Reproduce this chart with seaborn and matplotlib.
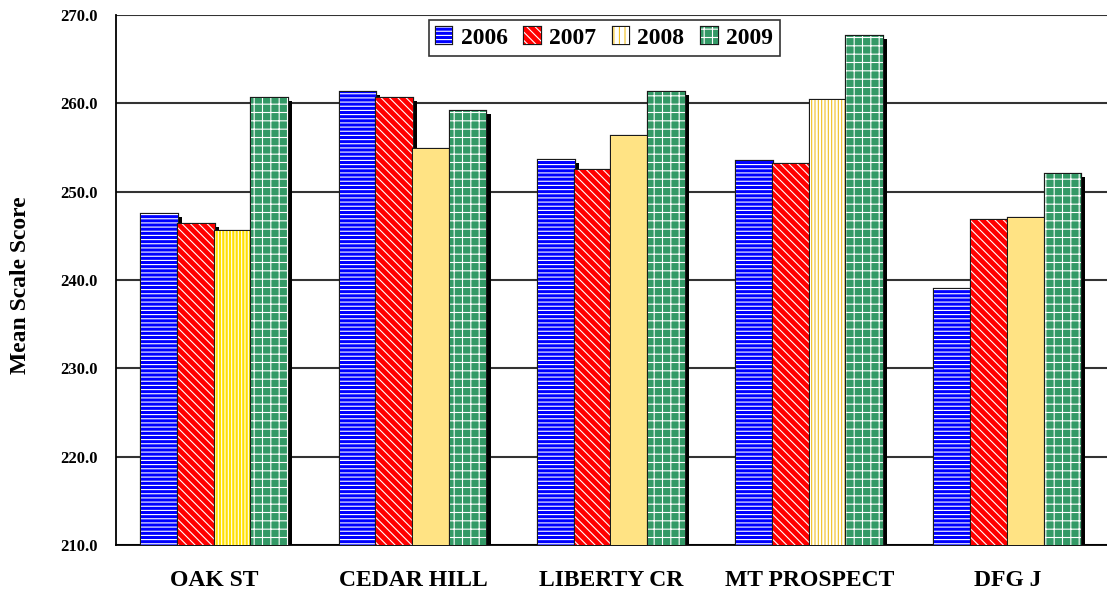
import numpy as np
import pandas as pd
import matplotlib
matplotlib.use("Agg")
import matplotlib.pyplot as plt
import matplotlib.patheffects as pe
from matplotlib.patches import Patch
import seaborn as sns

# data
schools = ["OAK ST", "CEDAR HILL", "LIBERTY CR", "MT PROSPECT", "DFG J"]
years = ["2006", "2007", "2008", "2009"]
score_2006 = [247.5, 261.3, 253.6, 253.5, 239.0]
score_2007 = [246.3, 260.6, 252.5, 253.1, 246.8]
score_2008 = [245.5, 254.8, 256.3, 260.4, 247.0]
score_2009 = [260.6, 259.1, 261.3, 267.6, 252.0]
y_ticks = [210, 220, 230, 240, 250, 260, 270]


def get_data() -> pd.DataFrame:
    rows = []
    for year, scores in zip(years, [score_2006, score_2007, score_2008, score_2009]):
        for school, s in zip(schools, scores):
            rows.append({"school": school, "year": year, "score": s})
    return pd.DataFrame(rows)


# face colour, hatch, hatch colour
year_style = {
    "2006": ("#0000FF", "----", "white"),
    "2007": ("#FF0000", "\\\\\\\\", "white"),
    "2008": ("#FFE384", "", "#FFE384"),
    "2009": ("#339966", "++", "white"),
}
# the 2008 bars are not all drawn the same way
special_2008 = {
    "OAK ST": ("#FFE000", "|||||", "white"),
    "MT PROSPECT": ("white", "|||||", "#F0C020"),
}
legend_style = dict(year_style)
legend_style["2008"] = ("white", "|||", "#F0C020")


def bar_effects():
    return [
        pe.SimplePatchShadow(offset=(3, -2), shadow_rgbFace="black", alpha=1.0, hatch=None),
        pe.Stroke(linewidth=1.6, foreground="#1a1a1a", hatch=None),
        pe.Normal(),
    ]


def style_patch(p, face, hatch, hcolor):
    p.set_facecolor(face)
    p.set_edgecolor(hcolor)
    p.set_hatch(hatch)
    p.set_linewidth(0)
    p.set_path_effects(bar_effects())


sns.set_theme(style="white")
plt.rcParams["font.family"] = ["Liberation Serif", "DejaVu Serif"]
plt.rcParams["font.weight"] = "bold"
plt.rcParams["hatch.linewidth"] = 0.8
for key in ["text.color", "axes.labelcolor", "xtick.color", "ytick.color"]:
    plt.rcParams[key] = "black"

df = get_data()
fig = plt.figure(figsize=(11.07, 5.96), dpi=100)
ax = fig.add_axes([0.1044, 0.0856, 0.8956, 0.8892])

sns.barplot(data=df, x="school", y="score", hue="year", order=schools,
            hue_order=years, palette=[year_style[y][0] for y in years],
            errorbar=None, width=0.74, ax=ax, legend=False, zorder=3)

for year, container in zip(years, ax.containers):
    for school, p in zip(schools, container.patches):
        face, hatch, hcolor = year_style[year]
        if year == "2008" and school in special_2008:
            face, hatch, hcolor = special_2008[school]
        style_patch(p, face, hatch, hcolor)

ax.set_ylim(210, 270)
ax.set_xlim(-0.5, len(schools) - 0.5)
ax.set_yticks(y_ticks)
ax.set_yticklabels([f"{t:.1f}" for t in y_ticks], fontweight="bold")
ax.yaxis.grid(True, color="#333333", linewidth=1.5, zorder=0)
ax.set_axisbelow(True)

ax.set_xticks(range(len(schools)))
ax.set_xticklabels(schools, fontweight="bold")
ax.set_xticks(np.arange(-0.5, len(schools), 1.0), minor=True)
ax.tick_params(axis="x", which="major", length=0, pad=18, labelsize=17, labelcolor="black")
ax.tick_params(axis="x", which="minor", length=6, width=1.2, color="black", direction="out")
ax.tick_params(axis="y", length=6, width=1.2, color="black", direction="out", pad=7,
               labelsize=12, labelcolor="black")

for side in ["top", "right"]:
    ax.spines[side].set_visible(False)
for side in ["left", "bottom"]:
    ax.spines[side].set_color("black")
    ax.spines[side].set_linewidth(1.3)

ax.set_xlabel("")
ax.set_ylabel("Mean Scale Score", fontsize=17, fontweight="bold", color="black")
ax.yaxis.set_label_coords(-0.085, 0.49)

handles = []
for year in years:
    face, hatch, hcolor = legend_style[year]
    h = Patch(facecolor=face, edgecolor=hcolor, hatch=hatch, linewidth=0, label=year)
    h.set_path_effects([pe.Stroke(linewidth=1.6, foreground="#1a1a1a", hatch=None), pe.Normal()])
    handles.append(h)

leg = ax.legend(handles=handles, loc="upper center", bbox_to_anchor=(0.493, 0.99),
                ncol=4, fontsize=17, frameon=True, fancybox=False,
                handlelength=0.7, handleheight=0.7, handletextpad=0.35,
                columnspacing=0.7, borderpad=0.3, borderaxespad=0)
leg.get_frame().set_edgecolor("black")
leg.get_frame().set_linewidth(1.2)
for t in leg.get_texts():
    t.set_fontweight("bold")
    t.set_color("black")
leg.set_zorder(5)

fig.savefig("out.png", dpi=100)
